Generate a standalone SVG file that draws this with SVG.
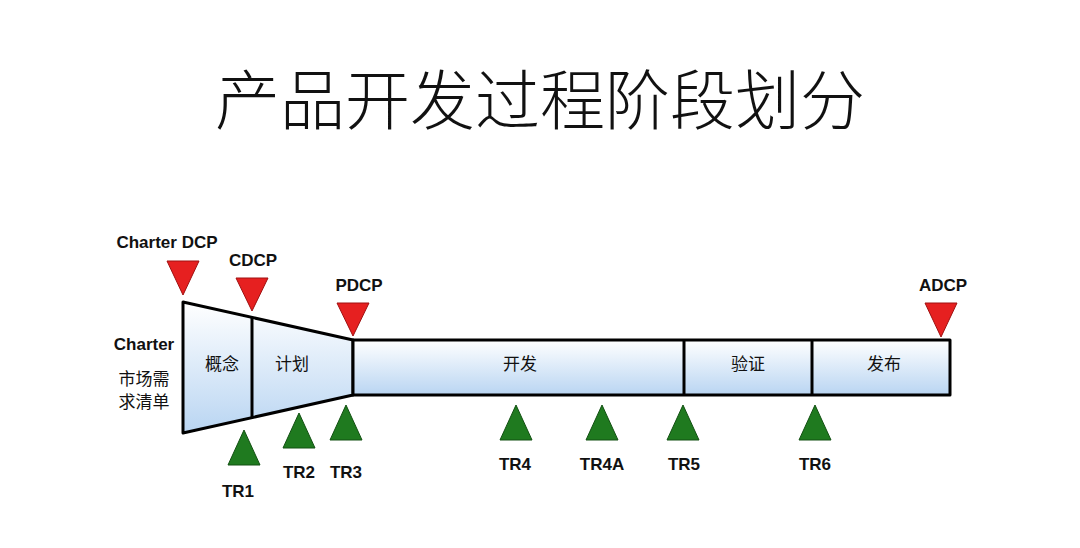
<svg xmlns="http://www.w3.org/2000/svg" width="1080" height="548" viewBox="0 0 1080 548">
<style>
.lb{font-family:"Liberation Sans",Arial,sans-serif;font-weight:bold;font-size:17px;fill:#111;text-anchor:middle}
.cn{font-family:"Noto Sans CJK SC",sans-serif;font-size:17px;fill:#111;text-anchor:middle}
.st{stroke:#000;stroke-width:3;stroke-linejoin:round}
.dcp{fill:#e62020;stroke:#a01010;stroke-width:1}
.tr{fill:#1f7a1f;stroke:#125012;stroke-width:1}
</style>
<defs>
<linearGradient id="g" x1="0" y1="0" x2="0" y2="1">
<stop offset="0" stop-color="#ffffff"/><stop offset="1" stop-color="#b9d5f2"/>
</linearGradient>
</defs>
<rect width="1080" height="548" fill="#fff"/>
<text x="540" y="124" font-family="Noto Sans CJK SC,sans-serif" font-weight="300" font-size="65" text-anchor="middle" fill="#111">产品开发过程阶段划分</text>
<g id="funnel">
<polygon class="st" points="183,302 353,340 353,395 183,433" fill="url(#g)"/>
<line class="st" x1="252" y1="317" x2="252" y2="418"/>
<text class="cn" x="222" y="370">概念</text>
<text class="cn" x="292" y="370">计划</text>
</g>
<g id="bar">
<rect class="st" x="353" y="340" width="597" height="55" fill="url(#g)"/>
<line class="st" x1="684" y1="340" x2="684" y2="395"/>
<line class="st" x1="812" y1="340" x2="812" y2="395"/>
<text class="cn" x="520" y="370">开发</text>
<text class="cn" x="748" y="370">验证</text>
<text class="cn" x="884" y="370">发布</text>
</g>
<g id="charter">
<text class="lb" x="144" y="350">Charter</text>
<text class="cn" x="144" y="385">市场需</text>
<text class="cn" x="144" y="408">求清单</text>
</g>
<g id="dcps">
<polygon class="dcp" points="167,261 199,261 183,295"/>
<text class="lb" x="167" y="248">Charter DCP</text>
<polygon class="dcp" points="236,278 268,278 252,311"/>
<text class="lb" x="253" y="266">CDCP</text>
<polygon class="dcp" points="337,303 369,303 353,336"/>
<text class="lb" x="359" y="291">PDCP</text>
<polygon class="dcp" points="925,303 957,303 941,337"/>
<text class="lb" x="943" y="291">ADCP</text>
</g>
<g id="trs">
<polygon class="tr" points="244,430 260,465 228,465"/><text class="lb" x="238" y="497">TR1</text>
<polygon class="tr" points="299,413 315,448 283,448"/><text class="lb" x="299" y="478">TR2</text>
<polygon class="tr" points="346,405 362,440 330,440"/><text class="lb" x="346" y="478">TR3</text>
<polygon class="tr" points="516,405 532,440 500,440"/><text class="lb" x="515" y="470">TR4</text>
<polygon class="tr" points="602,405 618,440 586,440"/><text class="lb" x="602" y="470">TR4A</text>
<polygon class="tr" points="683,405 699,440 667,440"/><text class="lb" x="684" y="470">TR5</text>
<polygon class="tr" points="815,405 831,440 799,440"/><text class="lb" x="815" y="470">TR6</text>
</g>
</svg>
